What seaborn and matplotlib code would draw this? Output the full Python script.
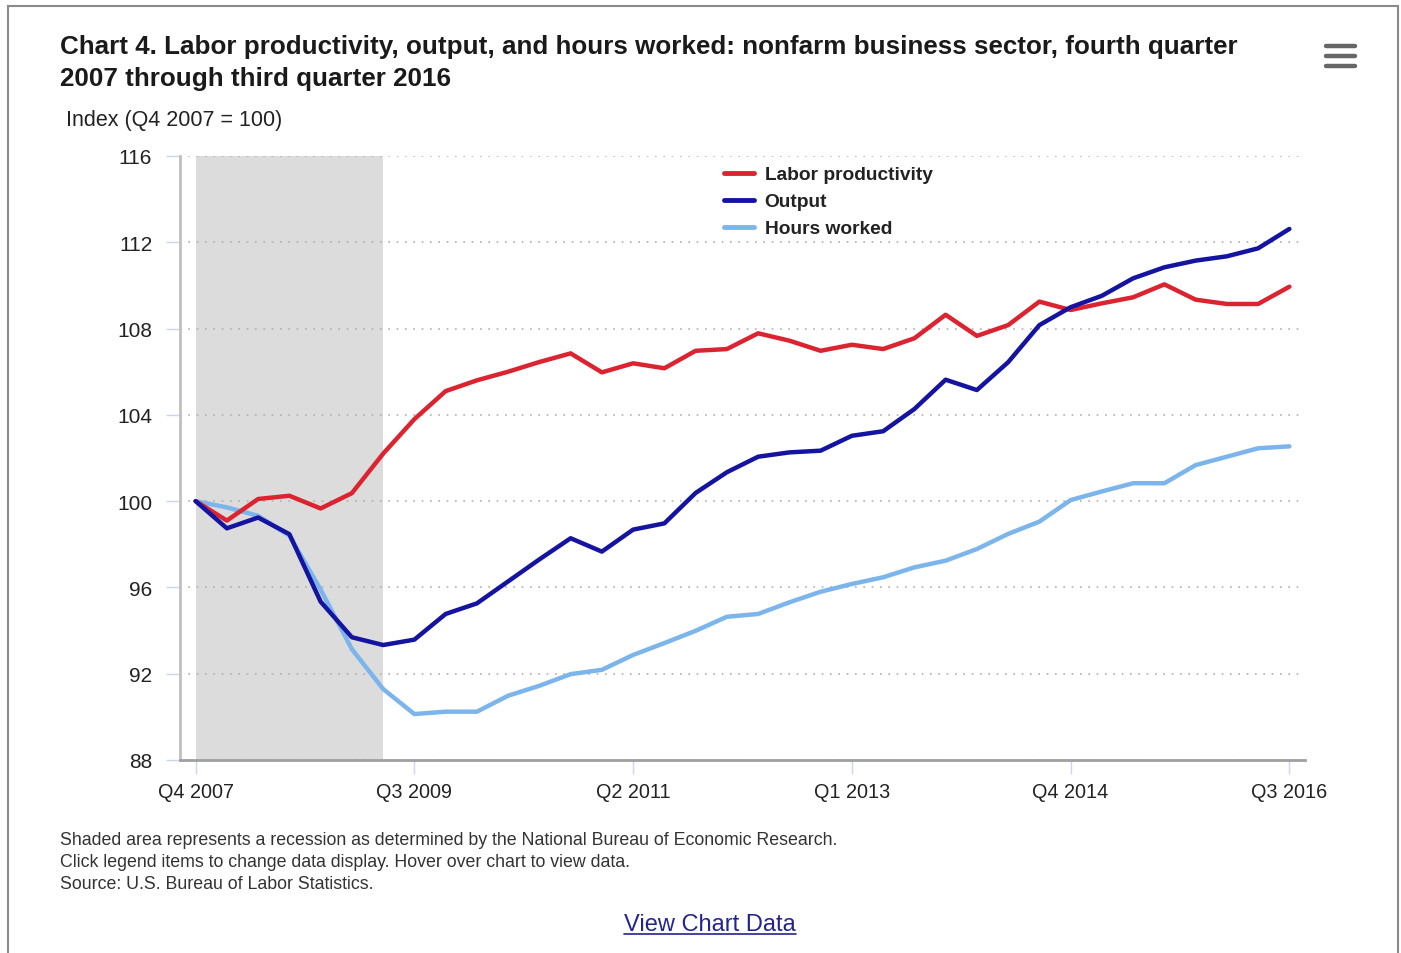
import matplotlib
matplotlib.use("Agg")
import matplotlib.pyplot as plt
from matplotlib.lines import Line2D
from matplotlib.patches import Rectangle
import numpy as np
import pandas as pd
import seaborn as sns

# Quarterly index values, Q4 2007 = 100
quarters = [f"Q{p.quarter} {p.year}" for p in pd.period_range("2007Q4", "2016Q3", freq="Q")]

labor_productivity = [100.0, 99.1, 100.1, 100.25, 99.66, 100.37, 102.2, 103.8, 105.1, 105.6,
                      106.0, 106.45, 106.85, 105.97, 106.39, 106.16, 106.97, 107.05, 107.78, 107.44,
                      106.97, 107.25, 107.05, 107.55, 108.64, 107.66, 108.16, 109.25, 108.86, 109.17,
                      109.45, 110.05, 109.34, 109.14, 109.14, 109.94]

output = [100.0, 98.74, 99.24, 98.47, 95.34, 93.69, 93.33, 93.58, 94.77, 95.26,
          96.28, 97.3, 98.28, 97.66, 98.68, 98.97, 100.38, 101.34, 102.06, 102.26,
          102.34, 103.03, 103.24, 104.27, 105.63, 105.15, 106.44, 108.16, 108.99, 109.52,
          110.33, 110.84, 111.15, 111.35, 111.72, 112.62]

hours_worked = [100.0, 99.71, 99.32, 98.4, 95.9, 93.14, 91.29, 90.13, 90.24, 90.24,
                90.98, 91.44, 91.98, 92.18, 92.87, 93.42, 93.99, 94.64, 94.77, 95.31,
                95.8, 96.16, 96.47, 96.93, 97.24, 97.78, 98.48, 99.05, 100.05, 100.45,
                100.83, 100.83, 101.67, 102.06, 102.45, 102.54]

series_names = ["Labor productivity", "Output", "Hours worked"]
series_colors = ["#dc2330", "#1414a0", "#7cb5ec"]

recession_start, recession_end = "Q4 2007", "Q2 2009"
tick_quarters = ["Q4 2007", "Q3 2009", "Q2 2011", "Q1 2013", "Q4 2014", "Q3 2016"]
y_ticks = [88, 92, 96, 100, 104, 108, 112, 116]

df = pd.DataFrame({
    "quarter": quarters * 3,
    "pos": list(range(len(quarters))) * 3,
    "value": labor_productivity + output + hours_worked,
    "series": [s for s in series_names for _ in quarters],
})

sns.set_theme(style="white")
plt.rcParams["font.family"] = ["Liberation Sans", "DejaVu Sans"]

fig = plt.figure(figsize=(14.01, 9.54), dpi=100)
ax = fig.add_axes([180 / 1401, 1 - 761 / 954, 1125 / 1401, 604 / 954])

# recession band
ax.axvspan(quarters.index(recession_start), quarters.index(recession_end),
           color="#dcdcdc", lw=0, zorder=0)

sns.lineplot(data=df, x="pos", y="value", hue="series", hue_order=series_names,
             palette=series_colors, linewidth=3.2, legend=False, ax=ax, zorder=3)
for line, name in zip(ax.get_lines(), series_names):
    line.set_zorder({"Labor productivity": 3, "Output": 4, "Hours worked": 2}[name])
    line.set_solid_joinstyle("round")

ax.set_xlim(-0.5, len(quarters) - 0.5)
ax.set_ylim(88, 116)
ax.set_yticks(y_ticks)
ax.set_yticklabels([str(v) for v in y_ticks], fontsize=15, color="#222222")
ax.set_xticks([quarters.index(q) for q in tick_quarters])
ax.set_xticklabels(tick_quarters, fontsize=14.3, color="#222222")
ax.tick_params(axis="x", length=10, width=1, color="#ccd6eb", pad=6, bottom=True)
ax.tick_params(axis="y", length=10, width=1, color="#ccd6eb", pad=10, left=True)
ax.set_xlabel("")
ax.set_ylabel("")

ax.grid(axis="y", linestyle=(0, (1, 4)), color="#b0b0b0", linewidth=1.2)
ax.grid(axis="x", visible=False)
for side in ["top", "right"]:
    ax.spines[side].set_visible(False)
ax.spines["left"].set_color("#c0c0c0")
ax.spines["left"].set_linewidth(2)
ax.spines["bottom"].set_color("#a0a0a0")
ax.spines["bottom"].set_linewidth(2)

handles = [Line2D([0], [0], color=c, lw=3.5) for c in series_colors]
leg = ax.legend(handles, series_names, loc="upper left", bbox_to_anchor=(0.477, 0.996),
                frameon=False, fontsize=13.8, handlelength=1.55, handletextpad=0.55,
                labelspacing=0.5, borderaxespad=0)
for t in leg.get_texts():
    t.set_fontweight("bold")
    t.set_color("#222222")

# titles and notes
fig.text(60 / 1401, 1 - 47 / 954, "Chart 4. Labor productivity, output, and hours worked: nonfarm business sector, fourth quarter",
         fontsize=18.75, fontweight="bold", color="#1a1a1a", va="center")
fig.text(60 / 1401, 1 - 79 / 954, "2007 through third quarter 2016",
         fontsize=18.75, fontweight="bold", color="#1a1a1a", va="center")
fig.text(66 / 1401, 1 - 121 / 954, "Index (Q4 2007 = 100)", fontsize=15.5, color="#222222", va="center")

notes = ["Shaded area represents a recession as determined by the National Bureau of Economic Research.",
         "Click legend items to change data display. Hover over chart to view data.",
         "Source: U.S. Bureau of Labor Statistics."]
for k, line in enumerate(notes):
    fig.text(60 / 1401, 1 - (841 + 22 * k) / 954, line, fontsize=12.8, color="#333333", va="center")

link = fig.text(710 / 1401, 1 - 925 / 954, "View Chart Data", fontsize=17, color="#24248f",
                ha="center", va="center")
fig.canvas.draw()
bb = link.get_window_extent().transformed(fig.transFigure.inverted())
fig.add_artist(Line2D([bb.x0, bb.x1], [bb.y0 + 0.001, bb.y0 + 0.001], transform=fig.transFigure,
                      color="#24248f", lw=1.2))

# menu icon
for yy in (47, 57, 67):
    fig.add_artist(Line2D([1326 / 1401, 1355 / 1401], [1 - yy / 954] * 2, transform=fig.transFigure,
                          color="#666666", lw=3.2, solid_capstyle="round"))

# page frame
fig.add_artist(Rectangle((8 / 1401, -0.02), 1390 / 1401, 1.02 - 7 / 954, transform=fig.transFigure,
                         fill=False, edgecolor="#8a8a8a", lw=1.5))

fig.savefig("out.png", dpi=100, facecolor="white")
